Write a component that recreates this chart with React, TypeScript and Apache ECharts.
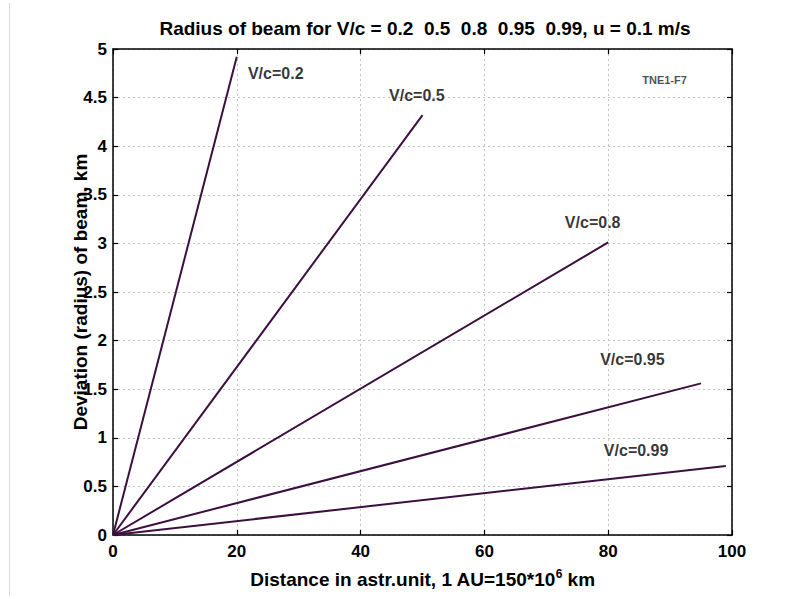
import React, { useEffect, useRef } from "react";
import * as echarts from "echarts";

const seriesNames = ["V/c=0.2", "V/c=0.5", "V/c=0.8", "V/c=0.95", "V/c=0.99"];
const endX = [20, 50, 80, 95, 99];
const endY = [4.92, 4.32, 3.01, 1.56, 0.71];
const labelX = [21.8, 44.6, 73.0, 78.7, 79.3];
const labelY = [4.75, 4.52, 3.22, 1.81, 0.87];
const stampText = "TNE1-F7";
const stampPos = [85.5, 4.68];

const FONT = "'Liberation Sans', Arial, sans-serif";
const LINE_COLOR = "#3b103f";

export default function App() {
  const ref = useRef<HTMLDivElement>(null);
  useEffect(() => {
    if (!ref.current) return;
    const chart = echarts.init(ref.current, null, { renderer: "svg" });
    const lineSeries = seriesNames.map((name, i) => ({
      name,
      type: "line",
      data: [
        [0, 0],
        [endX[i], endY[i]],
      ],
      showSymbol: false,
      symbol: "none",
      lineStyle: { color: LINE_COLOR, width: 2 },
      xAxisIndex: 0,
      yAxisIndex: 0,
      z: 3,
    }));
    const labelSeries = {
      type: "scatter",
      symbolSize: 0,
      data: seriesNames.map((n, i) => [labelX[i], labelY[i], n]),
      label: {
        show: true,
        position: "inside",
        align: "left",
        verticalAlign: "middle",
        formatter: (p: any) => p.data[2],
        fontFamily: FONT,
        fontWeight: "bold",
        fontSize: 16,
        color: "#000",
      },
      silent: true,
      z: 4,
    };
    const stampSeries = {
      type: "scatter",
      symbolSize: 0,
      data: [[stampPos[0], stampPos[1], stampText]],
      label: {
        show: true,
        position: "inside",
        align: "left",
        verticalAlign: "middle",
        formatter: (p: any) => p.data[2],
        fontFamily: FONT,
        fontWeight: "bold",
        fontSize: 11,
        color: "#222",
      },
      silent: true,
      z: 4,
    };
    const common = {
      min: 0,
      axisLine: { show: true, onZero: false, lineStyle: { color: "#000", width: 1.5 } },
      axisTick: { show: true, inside: true, length: 5, lineStyle: { color: "#000", width: 1.2 } },
    };
    const labelStyle = {
      fontFamily: FONT,
      fontWeight: "bold",
      fontSize: 17,
      color: "#000",
    };
    const nameStyle = { fontFamily: FONT, fontWeight: "bold", fontSize: 19, color: "#000" };
    chart.setOption({
      animation: false,
      backgroundColor: "#fff",
      title: {
        text: "Radius of beam for V/c = 0.2  0.5  0.8  0.95  0.99, u = 0.1 m/s",
        left: 420,
        top: 14,
        textAlign: "center",
        textStyle: { fontFamily: FONT, fontWeight: "bold", fontSize: 19, color: "#000" },
      },
      grid: { left: 113, right: 66, top: 49, bottom: 64, containLabel: false },
      xAxis: [
        {
          ...common,
          type: "value",
          position: "bottom",
          max: 100,
          interval: 20,
          axisLabel: { ...labelStyle, margin: 8 },
          splitLine: { show: true, lineStyle: { color: "#c4c4c4", type: [2, 3], width: 1 } },
          name: "Distance in astr.unit, 1 AU=150*10{sup|6} km",
          nameLocation: "middle",
          nameGap: 33,
          nameMoveOverlap: false,
          nameTextStyle: {
            ...nameStyle,
            rich: {
              sup: {
                fontFamily: FONT,
                fontWeight: "bold",
                fontSize: 12,
                color: "#000",
                padding: [0, 0, 10, 0],
              },
            },
          },
        },
        {
          ...common,
          type: "value",
          position: "top",
          max: 100,
          interval: 20,
          axisLabel: { show: false },
          splitLine: { show: false },
        },
      ],
      yAxis: [
        {
          ...common,
          type: "value",
          position: "left",
          max: 5,
          interval: 0.5,
          axisLabel: { ...labelStyle, margin: 6 },
          splitLine: { show: true, lineStyle: { color: "#c4c4c4", type: [2, 3], width: 1 } },
          name: "Deviation (radius) of beam, km",
          nameLocation: "middle",
          nameGap: 23,
          nameMoveOverlap: false,
          nameTextStyle: nameStyle,
        },
        {
          ...common,
          type: "value",
          position: "right",
          max: 5,
          interval: 0.5,
          axisLabel: { show: false },
          splitLine: { show: false },
        },
      ],
      graphic: [
        {
          type: "line",
          shape: { x1: 9.5, y1: 3, x2: 9.5, y2: 596 },
          style: { stroke: "#d8d8d8", lineWidth: 1 },
          silent: true,
        },
      ],
      series: [...lineSeries, labelSeries, stampSeries],
    });
    return () => chart.dispose();
  }, []);
  return (
    <div
      ref={ref}
      style={{ position: "fixed", left: 0, top: 0, width: 798, height: 599 }}
    />
  );
}
